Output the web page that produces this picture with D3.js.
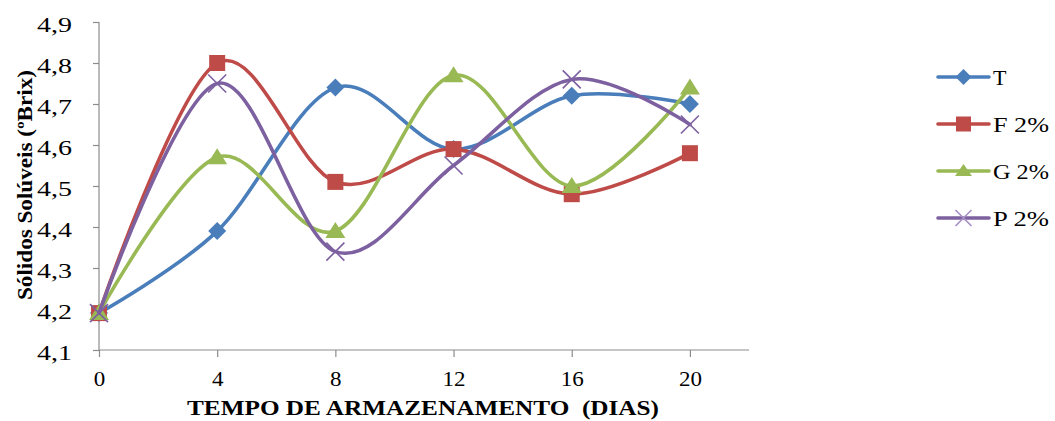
<!DOCTYPE html>
<html><head><meta charset="utf-8">
<script src="https://cdn.jsdelivr.net/npm/d3@7"></script>
<style>body{margin:0;background:#fff}svg{display:block}svg text{font-family:"Liberation Serif","DejaVu Serif",serif}</style>
</head><body>
<svg id="c" width="1055" height="421"></svg>
<script>
const days = [0, 4, 8, 12, 16, 20];
const seriesNames = ["T", "F 2%", "G 2%", "P 2%"];
const valT = [4.19, 4.39, 4.74, 4.59, 4.72, 4.70];
const valF = [4.19, 4.80, 4.51, 4.59, 4.48, 4.58];
const valG = [4.19, 4.57, 4.39, 4.77, 4.50, 4.74];
const valP = [4.19, 4.75, 4.34, 4.55, 4.76, 4.65];
const yTicks = [4.1, 4.2, 4.3, 4.4, 4.5, 4.6, 4.7, 4.8, 4.9];
const xTicks = [0, 4, 8, 12, 16, 20];

const colors = ["#4A7EBB", "#BE4B48", "#98B954", "#7D60A0"];
const markers = ["diamond", "square", "triangle", "x"];
const allVals = [valT, valF, valG, valP];

const svg = d3.select("#c");
const x = d3.scaleLinear().domain([0, 22]).range([99, 749]);
const y = d3.scaleLinear().domain([4.1, 4.9]).range([350, 22]);

// axes
const gx = svg.append("g").attr("transform", "translate(0,350)")
  .call(d3.axisBottom(x).tickValues(xTicks).tickSize(7).tickPadding(13).tickFormat(d3.format("d")));
const gy = svg.append("g").attr("transform", "translate(99,0)")
  .call(d3.axisLeft(y).tickValues(yTicks).tickSize(6).tickPadding(21).tickFormat(d => d3.format(".1f")(d).replace(".", ",")));
[gx, gy].forEach(g => {
  g.attr("font-family", null);
  g.selectAll("path,line").attr("stroke", "#8c8c8c").attr("stroke-width", 1.2);
  g.selectAll("text").attr("font-size", 22).attr("fill", "#000");
});
gx.selectAll(".tick text").each(function () {
  const t = d3.select(this);
  const n = t.text().length;
  t.attr("textLength", n * 11.5).attr("lengthAdjust", "spacingAndGlyphs");
});
gy.selectAll(".tick text").attr("dy", "0.42em").attr("textLength", 35).attr("lengthAdjust", "spacingAndGlyphs");
gx.select(".domain").attr("d", "M99,0H749");
gy.select(".domain").attr("d", "M0,22V350");

// titles
svg.append("text").attr("x", 423).attr("y", 415).attr("text-anchor", "middle")
  .attr("font-weight", "bold").attr("font-size", 22)
  .attr("textLength", 472).attr("lengthAdjust", "spacingAndGlyphs")
  .attr("xml:space", "preserve").text("TEMPO DE ARMAZENAMENTO  (DIAS)");
svg.append("text").attr("transform", "translate(32,185) rotate(-90)").attr("text-anchor", "middle")
  .attr("font-weight", "bold").attr("font-size", 22)
  .attr("textLength", 230).attr("lengthAdjust", "spacingAndGlyphs")
  .text("Sólidos Solúveis (ºBrix)");

const line = d3.line().x(d => x(d[0])).y(d => y(d[1])).curve(d3.curveCardinal.tension(0));

function marker(g, type, color, cx, cy, legend) {
  if (type === "diamond") {
    const h = legend ? 8 : 9;
    g.append("path").attr("d", `M${cx},${cy - h}L${cx + h},${cy}L${cx},${cy + h}L${cx - h},${cy}Z`).attr("fill", color);
  } else if (type === "square") {
    const s = legend ? 15 : 16;
    g.append("rect").attr("x", cx - s / 2).attr("y", cy - s / 2).attr("width", s).attr("height", s).attr("fill", color);
  } else if (type === "triangle") {
    const w = legend ? 8.5 : 10, t = legend ? 7 : 9, b = legend ? 5 : 7;
    g.append("path").attr("d", `M${cx},${cy - t}L${cx + w},${cy + b}L${cx - w},${cy + b}Z`).attr("fill", color);
  } else {
    const s = legend ? 8 : 9;
    g.append("path").attr("d", `M${cx - s},${cy - s}L${cx + s},${cy + s}M${cx + s},${cy - s}L${cx - s},${cy + s}`)
      .attr("stroke", legend ? "#a58fc4" : color).attr("stroke-width", 1.6).attr("fill", "none");
  }
}

allVals.forEach((vals, i) => {
  const g = svg.append("g");
  const pts = days.map((d, j) => [d, vals[j]]);
  g.append("path").attr("d", line(pts)).attr("fill", "none").attr("stroke", colors[i])
    .attr("stroke-width", 3.6).attr("stroke-linecap", "round");
  pts.forEach(p => marker(g, markers[i], colors[i], x(p[0]), y(p[1]), false));
});

// legend
const legY = [77, 124, 171, 218];
seriesNames.forEach((n, i) => {
  const g = svg.append("g");
  g.append("line").attr("x1", 938).attr("x2", 989).attr("y1", legY[i]).attr("y2", legY[i])
    .attr("stroke", colors[i]).attr("stroke-width", 3.6).attr("stroke-linecap", "round");
  marker(g, markers[i], colors[i], 963.5, legY[i], true);
  const t = g.append("text").attr("x", 993).attr("y", legY[i] + 8).attr("font-size", 22).text(n);
  if (n.length > 1) t.attr("textLength", 56).attr("lengthAdjust", "spacingAndGlyphs");
});
</script>
</body></html>
